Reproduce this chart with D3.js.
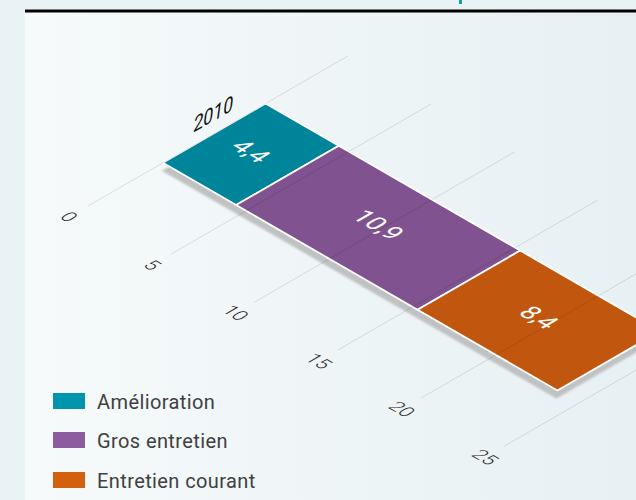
<!DOCTYPE html>
<html>
<head>
<meta charset="utf-8">
<script src="https://cdn.jsdelivr.net/npm/d3@7/dist/d3.min.js"></script>
<style>
  html, body { margin: 0; padding: 0; background: #e9f2f5; }
  svg { display: block; }
</style>
</head>
<body>
<svg id="chart" width="636" height="500"></svg>
<script>
// ---- data ----
const categories = ["2010"];
const seriesNames = ["Amélioration", "Gros entretien", "Entretien courant"];
const seriesValues = [4.4, 10.9, 8.4];
const valueLabels = ["4,4", "10,9", "8,4"];
const tickValues = [0, 5, 10, 15, 20, 25];
const tickLabels = ["0", "5", "10", "15", "20", "25"];
const barColors = ["#00849a", "#80528f", "#c1570f"];
const legendColors = ["#0095ac", "#8b5c9e", "#d3600f"];

// ---- setup ----
const W = 636, H = 500;
const svg = d3.select("#chart");
const defs = svg.append("defs");

const grad = defs.append("linearGradient").attr("id", "bg").attr("x1", "0").attr("x2", "1").attr("y1", "0").attr("y2", "0");
grad.append("stop").attr("offset", "0").attr("stop-color", "#f6fafb");
grad.append("stop").attr("offset", "1").attr("stop-color", "#e7f0f3");

const blur = defs.append("filter").attr("id", "shadowBlur").attr("x", "-10%").attr("y", "-10%").attr("width", "120%").attr("height", "120%");
blur.append("feGaussianBlur").attr("stdDeviation", 1.2);

// page background + panel
svg.append("rect").attr("x", 0).attr("y", 0).attr("width", W).attr("height", H).attr("fill", "#e9f2f5");
svg.append("rect").attr("x", 25).attr("y", 12).attr("width", W - 25).attr("height", H - 12).attr("fill", "url(#bg)");
svg.append("rect").attr("x", 25).attr("y", 9.5).attr("width", W - 25).attr("height", 3).attr("fill", "#000");
svg.append("rect").attr("x", 459).attr("y", 0).attr("width", 3).attr("height", 4).attr("fill", "#1a9bb5");

// ---- isometric projection ----
const ang = Math.PI / 6;
const cosA = Math.cos(ang), sinA = Math.sin(ang);
const ox = 88, oy = 206;
const valueScale = d3.scaleLinear().domain([0, 25]).range([0, 25 * 19.22]);
const depthScale = d3.scaleBand().domain(categories).range([86.5, 205]).padding(0);
const gridDepth = [0, 300];
function proj(v, d) {
  return [ox + v * cosA + d * cosA, oy + v * sinA - d * sinA];
}
const line = d3.line();

// stacked data
const stack = [];
let acc = 0;
seriesValues.forEach((v, i) => { stack.push({ i, y0: acc, y1: acc + v, v }); acc += v; });

const cat = categories[0];
const d0 = depthScale(cat), d1 = d0 + depthScale.bandwidth();

function quad(a, b) {
  const x0 = valueScale(a), x1 = valueScale(b);
  return [proj(x0, d0), proj(x1, d0), proj(x1, d1), proj(x0, d1)];
}

// shadow / thickness
const total = quad(0, acc).map(p => [p[0] - 1, p[1] + 8]);
svg.append("path").attr("d", line(total) + "Z").attr("fill", "#c0c1c2").attr("filter", "url(#shadowBlur)");

// bar segments
svg.append("g").selectAll("path").data(stack).join("path")
  .attr("d", d => line(quad(d.y0, d.y1)) + "Z")
  .attr("fill", d => barColors[d.i])
  .attr("stroke", "#ffffff")
  .attr("stroke-width", 1.8)
  .attr("stroke-linejoin", "miter");

// gridlines (over bars, semi transparent)
svg.append("g").selectAll("path").data(tickValues).join("path")
  .attr("d", t => line([proj(valueScale(t), gridDepth[0]), proj(valueScale(t), gridDepth[1])]))
  .attr("stroke", "rgba(0,0,0,0.11)")
  .attr("stroke-width", 1)
  .attr("fill", "none");

// tick labels on the floor plane
const mat = `matrix(${cosA},${sinA},${-cosA},${sinA},0,0)`;
svg.append("g").selectAll("text").data(tickValues).join("text")
  .attr("transform", (t) => { const p = proj(valueScale(t), -22); return `translate(${p[0]},${p[1]}) ${mat}`; })
  .attr("text-anchor", "middle")
  .attr("dominant-baseline", "central")
  .attr("font-family", "Roboto, 'DejaVu Sans', sans-serif")
  .attr("font-size", 19)
  .attr("font-weight", 300)
  .attr("fill", "#2a2a2a")
  .text((t, i) => tickLabels[i]);

// value labels
svg.append("g").selectAll("text").data(stack).join("text")
  .attr("transform", d => { const p = proj(valueScale((d.y0 + d.y1) / 2), (d0 + d1) / 2); return `translate(${p[0]},${p[1] - 3}) ${mat}`; })
  .attr("text-anchor", "middle")
  .attr("dominant-baseline", "central")
  .attr("font-family", "Roboto, 'DejaVu Sans', sans-serif")
  .attr("font-size", 25)
  .attr("fill", "#ffffff")
  .text(d => valueLabels[d.i]);

// category label
const cp = proj(valueScale(0), (d0 + d1) / 2);
svg.append("text")
  .attr("transform", `translate(${cp[0] - 1},${cp[1] - 12}) matrix(${cosA},${-sinA},0,1,0,0)`)
  .attr("text-anchor", "middle")
  .attr("font-family", "Roboto, 'DejaVu Sans', sans-serif")
  .attr("font-style", "italic")
  .attr("font-size", 21)
  .attr("fill", "#111")
  .text(cat);

// legend
const lg = svg.append("g").attr("transform", "translate(53,393)");
const rows = lg.selectAll("g").data(seriesNames).join("g")
  .attr("transform", (d, i) => `translate(0,${[0, 39, 79][i]})`);
rows.append("rect").attr("x", 0).attr("y", 0).attr("width", 32).attr("height", 16)
  .attr("fill", (d, i) => legendColors[i]);
rows.append("text").attr("x", 44).attr("y", 16)
  .attr("font-family", "Roboto, 'DejaVu Sans', sans-serif")
  .attr("font-size", 20)
  .attr("letter-spacing", 0.4)
  .attr("fill", "#404040")
  .text(d => d);
</script>
</body>
</html>
